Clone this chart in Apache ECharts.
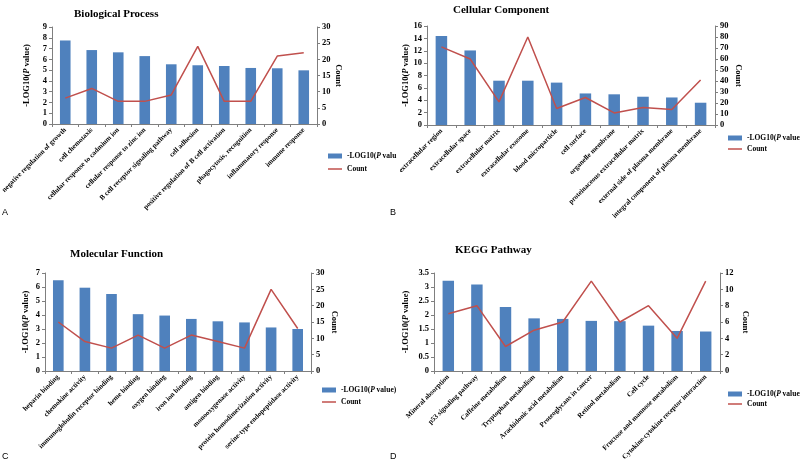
<!DOCTYPE html>
<html><head><meta charset="utf-8">
<script src="https://cdn.jsdelivr.net/npm/echarts@6/dist/echarts.min.js"></script>
<style>
html,body{margin:0;padding:0;background:#fff;width:800px;height:467px;overflow:hidden;}
.p{position:absolute;overflow:hidden;}
</style></head>
<body>
<div id="a" class="p" style="left:0;top:0;width:400px;height:233px"></div>
<div id="b" class="p" style="left:400px;top:0;width:400px;height:233px"></div>
<div id="c" class="p" style="left:0;top:233px;width:400px;height:234px"></div>
<div id="d" class="p" style="left:400px;top:233px;width:400px;height:234px"></div>
<script>
// ---- data ----
const bpCategories = ['negative regulation of growth','cell chemotaxis','cellular response to cadmium ion','cellular response to zinc ion','B cell receptor signaling pathway','cell adhesion','positive regulation of B cell activation','phagocytosis, recognition','inflammatory response','immune response'];
const bpLog = [7.75, 6.86, 6.65, 6.3, 5.54, 5.45, 5.38, 5.2, 5.17, 4.98];
const bpCount = [8, 11, 7, 7, 9, 24, 7, 7, 21, 22];

const ccCategories = ['extracellular region','extracellular space','extracellular matrix','extracellular exosome','blood microparticle','cell surface','organelle membrane','proteinaceous extracellular matrix','external side of plasma membrane','integral component of plasma membrane'];
const ccLog = [14.4, 12.05, 7.16, 7.16, 6.85, 5.1, 4.96, 4.57, 4.45, 3.6];
const ccCount = [71, 60, 21, 80, 15, 25, 11, 16, 14, 41];

const mfCategories = ['heparin binding','chemokine activity','immunoglobulin receptor binding','heme binding','oxygen binding','iron ion binding','antigen binding','monooxygenase activity','protein homodimerization activity','serine-type endopeptidase activity'];
const mfLog = [6.48, 5.95, 5.5, 4.06, 3.96, 3.72, 3.55, 3.47, 3.11, 3.0];
const mfCount = [15, 9, 7, 11, 7, 11, 9, 7, 25, 13];

const keggCategories = ['Mineral absorption','p53 signaling pathway','Caffeine metabolism','Tryptophan metabolism','Arachidonic acid metabolism','Proteoglycans in cancer','Retinol metabolism','Cell cycle','Fructose and mannose metabolism','Cytokine-cytokine receptor interaction'];
const keggLog = [3.22, 3.09, 2.29, 1.88, 1.86, 1.79, 1.78, 1.62, 1.43, 1.41];
const keggCount = [7, 8, 3, 5, 6, 11, 6, 8, 4, 11];

const BLUE = '#4f81bd', RED = '#c0504d';
const SERIF = "'Liberation Serif','Times New Roman',serif";

function makeOption(c) {
  const axisLine = {show: true, lineStyle: {color: '#7f7f7f', width: 1}};
  const axisTick = {show: true, length: 3, lineStyle: {color: '#7f7f7f'}};
  const graphics = [{
    type: 'text', left: c.titleX, top: c.titleY,
    style: {text: c.title, font: 'bold 11px ' + SERIF, fill: '#000'}
  }];
  (c.letters || []).forEach(l => graphics.push({
    type: 'text', left: l[1], top: l[2],
    style: {text: l[0], font: '9px "Liberation Sans", Arial, sans-serif', fill: '#000'}
  }));
  return {
    animation: false,
    backgroundColor: '#fff',
    graphic: graphics,
    grid: {left: c.grid[0], top: c.grid[1], right: c.grid[2], bottom: c.grid[3],
           containLabel: false, outerBoundsMode: 'none'},
    legend: {
      orient: 'vertical', left: c.legend[0], top: c.legend[1], itemGap: c.legendGap || 5,
      padding: 0, itemWidth: 14, itemHeight: 5,
      textStyle: {fontFamily: SERIF, fontWeight: 'bold', fontSize: 7.5, color: '#000',
        rich: {i: {fontFamily: SERIF, fontWeight: 'bold', fontStyle: 'italic', fontSize: 7.5}}},
      formatter: n => n.replace('(P', '({i|P}'),
      data: [{name: c.barName, icon: 'rect'},
             {name: 'Count', icon: 'path://M0,0L14,0L14,1.5L0,1.5Z'}]
    },
    xAxis: {
      type: 'category', data: c.cats, boundaryGap: true,
      axisLine: axisLine,
      axisTick: {show: true, length: 3, interval: 0, alignWithLabel: false, lineStyle: {color: '#7f7f7f'}},
      axisLabel: {interval: 0, rotate: 45, margin: 5, fontFamily: SERIF, fontWeight: 'bold', fontSize: 7, color: '#000'}
    },
    yAxis: [{
      type: 'value', min: 0, max: c.lmax, interval: c.lint, splitLine: {show: false},
      axisLine: axisLine, axisTick: axisTick,
      axisLabel: {margin: 5, fontFamily: SERIF, fontWeight: 'bold', fontSize: 8.5, color: '#000'},
      name: '-LOG10({i|P} value)', nameLocation: 'middle', nameRotate: 90, nameGap: c.lgap,
      nameMoveOverlap: false,
      nameTextStyle: {fontFamily: SERIF, fontWeight: 'bold', fontSize: 8.5, color: '#000',
        rich: {i: {fontFamily: SERIF, fontWeight: 'bold', fontStyle: 'italic', fontSize: 8.5}}}
    }, {
      type: 'value', min: 0, max: c.rmax, interval: c.rint, splitLine: {show: false}, position: 'right',
      axisLine: axisLine, axisTick: axisTick,
      axisLabel: {margin: 5, fontFamily: SERIF, fontWeight: 'bold', fontSize: 8.5, color: '#000'},
      name: 'Count', nameLocation: 'middle', nameRotate: -90, nameGap: c.rgap,
      nameMoveOverlap: false,
      nameTextStyle: {fontFamily: SERIF, fontWeight: 'bold', fontSize: 8.5, color: '#000'}
    }],
    series: [{
      name: c.barName, type: 'bar', data: c.log, yAxisIndex: 0, barWidth: '40%',
      itemStyle: {color: BLUE}
    }, {
      name: 'Count', type: 'line', data: c.count, yAxisIndex: 1, symbol: 'none',
      lineStyle: {color: RED, width: 1.5}, itemStyle: {color: RED}
    }]
  };
}

const cfgs = [
  {id: 'a', title: 'Biological Process', titleX: 74, titleY: 9, cats: bpCategories, log: bpLog, count: bpCount,
   barName: '-LOG10(P valu', grid: [52, 27, 83, 109], lmax: 9, lint: 1, rmax: 30, rint: 5, lgap: 21, rgap: 17,
   legend: [328, 152], legendGap: 5, letters: [['A', 2, 208], ['B', 390, 208]]},
  {id: 'b', title: 'Cellular Component', titleX: 53, titleY: 5, cats: ccCategories, log: ccLog, count: ccCount,
   barName: '-LOG10(P value)', grid: [27, 26, 85, 108], lmax: 16, lint: 2, rmax: 90, rint: 10, lgap: 17, rgap: 19,
   legend: [328, 134], legendGap: 3},
  {id: 'c', title: 'Molecular Function', titleX: 70, titleY: 16, cats: mfCategories, log: mfLog, count: mfCount,
   barName: '-LOG10(P value)', grid: [45, 40, 89, 96], lmax: 7, lint: 1, rmax: 30, rint: 5, lgap: 15, rgap: 19,
   legend: [322, 153], legendGap: 4, letters: [['C', 2, 219], ['D', 390, 219]]},
  {id: 'd', title: 'KEGG Pathway', titleX: 55, titleY: 12, cats: keggCategories, log: keggLog, count: keggCount,
   barName: '-LOG10(P value)', grid: [34, 40, 80, 96], lmax: 3.5, lint: 0.5, rmax: 12, rint: 2, lgap: 24, rgap: 21,
   legend: [328, 157], legendGap: 2}
];
cfgs.forEach(c => {
  const ch = echarts.init(document.getElementById(c.id), null, {renderer: 'canvas'});
  ch.setOption(makeOption(c));
});
</script>
</body></html>
